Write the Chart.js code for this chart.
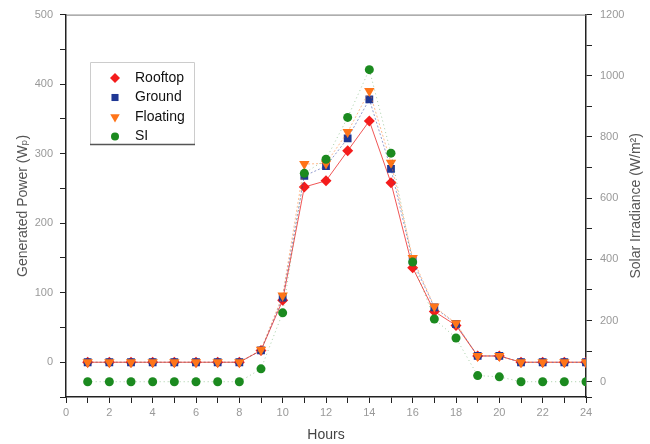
<!DOCTYPE html>
<html>
<head>
<meta charset="utf-8">
<script src="https://cdn.jsdelivr.net/npm/chart.js@4.4.1/dist/chart.umd.min.js"></script>
<style>
  html, body { margin: 0; padding: 0; background: #fff; }
  #wrap { width: 650px; height: 444px; }
</style>
</head>
<body>
<div id="wrap"><canvas id="chart" width="650" height="444"></canvas></div>
<script>
// hours of the day
const hours = [1,2,3,4,5,6,7,8,9,10,11,12,13,14,15,16,17,18,19,20,21,22,23,24];

// generated power (Wp), left axis
const rooftop  = [0,0,0,0,0,0,0,0,17,89,252,261,304,347,258,136,73,53,9,9,0,0,0,0];
const ground   = [0,0,0,0,0,0,0,0,17,93,268,282,322,378,278,146,79,55,9,9,0,0,0,0];
const floating = [0,0,0,0,0,0,0,0,18,96,285,286,331,390,287,150,80,56,9,9,0,0,0,0];

// solar irradiance (W/m2), right axis
const si = [0,0,0,0,0,0,0,0,42,225,681,727,864,1020,747,391,205,143,20,16,0,0,0,0];

const seriesNames = ["Rooftop","Ground","Floating","SI"];

function pts(arr){ return arr.map((v,i) => ({ x: hours[i], y: v })); }

const tickFont = { family: "Liberation Sans, Arial, sans-serif", size: 11 };
const titleFont = { family: "Liberation Sans, Arial, DejaVu Sans, sans-serif", size: 14 };
const tickGray = "#999";
const axisCol = "#222";

// legend box + top frame line + right title (reads bottom-to-top like the left one)
const extras = {
  id: "extras",
  afterDraw(chart){
    const ctx = chart.ctx;
    const a = chart.chartArea;
    ctx.save();
    // top frame line
    ctx.strokeStyle = "#777";
    ctx.lineWidth = 1;
    ctx.beginPath();
    ctx.moveTo(a.left, a.top + 0.5);
    ctx.lineTo(a.right, a.top + 0.5);
    ctx.stroke();

    // right axis title
    ctx.fillStyle = "#555";
    ctx.font = "14px Liberation Sans, Arial, DejaVu Sans, sans-serif";
    ctx.textAlign = "center";
    ctx.textBaseline = "middle";
    ctx.translate(636, (a.top + a.bottom) / 2);
    ctx.rotate(-Math.PI / 2);
    ctx.fillText("Solar Irradiance (W/m\u00B2)", 0, 0);
    ctx.restore();

    // legend
    ctx.save();
    const bx = 90, by = 62, bw = 104, bh = 82;
    ctx.strokeStyle = "#ccc";
    ctx.lineWidth = 1;
    ctx.beginPath();
    ctx.moveTo(bx + 0.5, by + bh); ctx.lineTo(bx + 0.5, by + 0.5);
    ctx.lineTo(bx + bw + 0.5, by + 0.5); ctx.lineTo(bx + bw + 0.5, by + bh);
    ctx.stroke();
    ctx.strokeStyle = "#555";
    ctx.lineWidth = 1.5;
    ctx.beginPath();
    ctx.moveTo(bx, by + bh + 0.5); ctx.lineTo(bx + bw + 1, by + bh + 0.5);
    ctx.stroke();

    ctx.font = "14px Liberation Sans, Arial, sans-serif";
    ctx.textAlign = "left";
    ctx.textBaseline = "middle";
    chart.data.datasets.forEach((ds, i) => {
      const y = 78 + i * 19.5;
      ctx.fillStyle = ds.pointBackgroundColor;
      ctx.strokeStyle = ds.pointBorderColor;
      Chart.helpers.drawPoint(ctx, {
        pointStyle: ds.pointStyle,
        radius: ds.pointRadius - 0.5,
        rotation: ds.pointRotation || 0,
        borderWidth: 0
      }, 115, y);
      ctx.fillStyle = "#111";
      ctx.fillText(ds.label, 135, y);
    });
    ctx.restore();
  }
};

new Chart(document.getElementById("chart"), {
  type: "line",
  data: {
    datasets: [
      { label: seriesNames[0], data: pts(rooftop), yAxisID: "y", order: 4,
        borderColor: "rgba(235,30,30,0.75)", borderWidth: 1,
        pointStyle: "rectRot", pointRadius: 5.5,
        pointBackgroundColor: "#f41c1c", pointBorderColor: "#f41c1c", pointBorderWidth: 0 },
      { label: seriesNames[1], data: pts(ground), yAxisID: "y", order: 3,
        borderColor: "rgba(40,60,160,0.5)", borderWidth: 1, borderDash: [2,2],
        pointStyle: "rect", pointRadius: 5.5,
        pointBackgroundColor: "#1f3794", pointBorderColor: "#1f3794", pointBorderWidth: 0 },
      { label: seriesNames[2], data: pts(floating), yAxisID: "y", order: 2,
        borderColor: "rgba(255,120,30,0.5)", borderWidth: 1, borderDash: [2,2],
        pointStyle: "triangle", pointRotation: 180, pointRadius: 6,
        pointBackgroundColor: "#ff7419", pointBorderColor: "#ff7419", pointBorderWidth: 0 },
      { label: seriesNames[3], data: pts(si), yAxisID: "y1", order: 1,
        borderColor: "rgba(30,130,30,0.4)", borderWidth: 1, borderDash: [1,3],
        pointStyle: "circle", pointRadius: 4.5,
        pointBackgroundColor: "#1b8a1f", pointBorderColor: "#1b8a1f", pointBorderWidth: 0 }
    ]
  },
  options: {
    responsive: false,
    animation: false,
    layout: { padding: { top: 14, left: 0, right: 0, bottom: 0 } },
    plugins: { legend: { display: false }, tooltip: { enabled: false } },
    scales: {
      x: {
        type: "linear", min: 0, max: 24,
        ticks: { stepSize: 1, autoSkip: false, color: tickGray, font: tickFont, padding: 3,
                 maxRotation: 0, callback: v => (v % 2 === 0 ? v : "") },
        grid: { drawOnChartArea: false, drawTicks: true, tickLength: 6, tickColor: axisCol },
        border: { display: true, color: axisCol, width: 1.5 },
        title: { display: true, text: "Hours", color: "#444", font: titleFont, padding: 0 },
        afterFit: s => { s.height = 47; }
      },
      y: {
        position: "left", min: -50, max: 500,
        ticks: { stepSize: 50, color: tickGray, font: tickFont, padding: 7,
                 callback: v => (v % 100 === 0 ? v : "") },
        grid: { drawOnChartArea: false, drawTicks: true, tickLength: 6, tickColor: axisCol },
        border: { display: true, color: axisCol, width: 1.5 },
        title: { display: true, text: "Generated Power (W\u209A)", color: "#555", font: titleFont,
                 padding: { top: 15, bottom: 0 } },
        afterFit: s => { s.width = 66; }
      },
      y1: {
        position: "right", min: -50, max: 1200,
        ticks: { stepSize: 100, color: tickGray, font: tickFont, padding: 8,
                 callback: v => (v % 200 === 0 ? v : "") },
        grid: { drawOnChartArea: false, drawTicks: true, tickLength: 6, tickColor: axisCol },
        border: { display: true, color: axisCol, width: 1.5 },
        afterFit: s => { s.width = 64; }
      }
    }
  },
  plugins: [extras]
});
</script>
</body>
</html>
